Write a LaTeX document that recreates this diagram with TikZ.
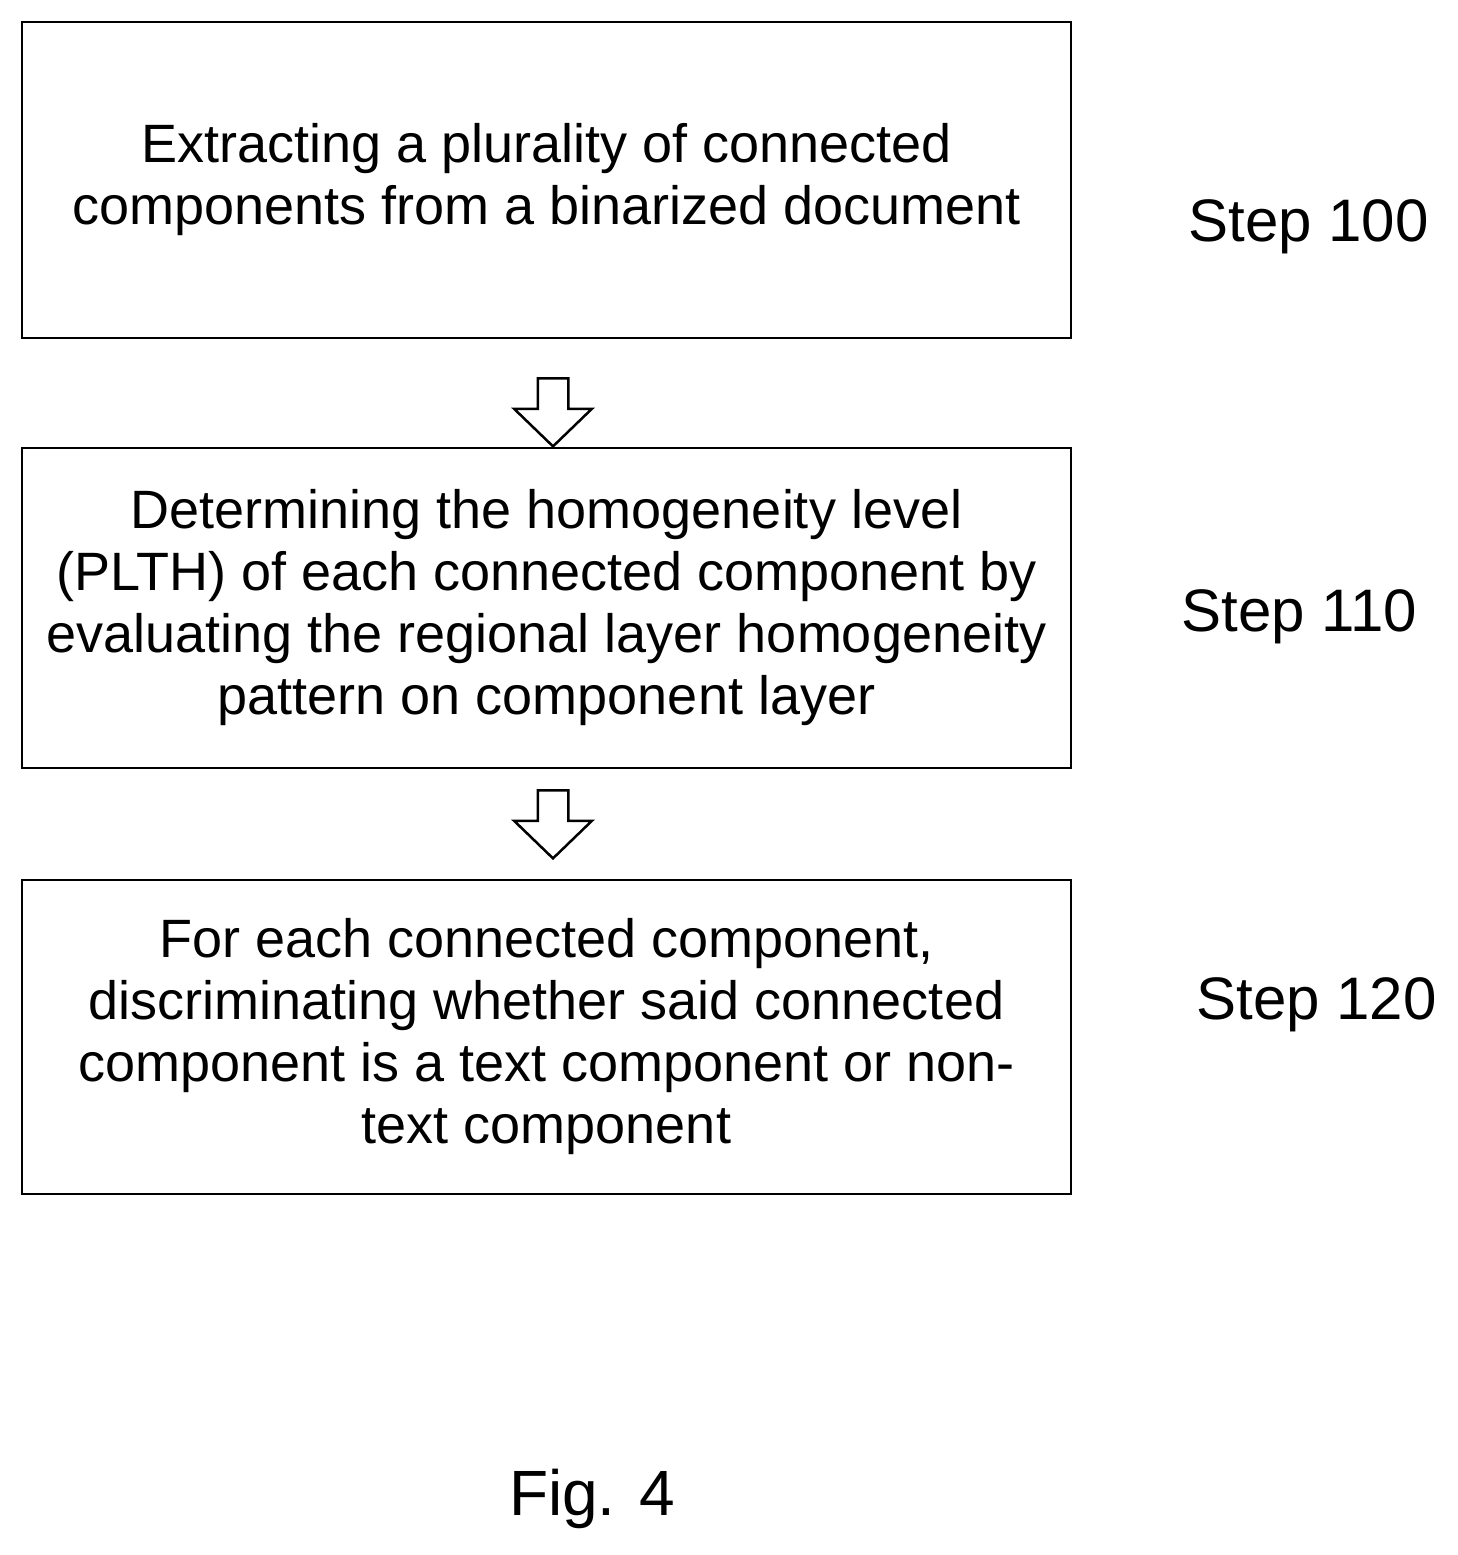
\documentclass[tikz,border=0pt]{standalone}
\usepackage{fontspec}
\setmainfont{Liberation Sans}
\usetikzlibrary{shapes.arrows}

\tikzset{
  stepbox/.style={draw, line width=2.5pt, minimum width=1049pt, align=center,
    font=\fontsize{54}{62}\selectfont},
  steplabel/.style={font=\fontsize{60}{70}\selectfont, anchor=west},
  blockarrow/.style={draw, line width=2.5pt, single arrow, rotate=-90,
    minimum height=68pt, inner xsep=0pt, inner ysep=14pt,
    single arrow head extend=23.5pt, single arrow tip angle=92}
}

\begin{document}
\begin{tikzpicture}[x=1pt,y=1pt,yscale=-1]
    \useasboundingbox (0,0) rectangle (1458,1555);

    % Boxes
    \node [stepbox, minimum height=316pt] (extract) at (546.5,180)
      {Extracting a plurality of connected\\components from a binarized document};
    \node [stepbox, minimum height=320pt] (homog) at (546.5,608)
      {Determining the homogeneity level\\(PLTH) of each connected component by\\evaluating the regional layer homogeneity\\pattern on component layer};
    \node [stepbox, minimum height=314pt] (discrim) at (546.5,1037)
      {For each connected component,\\discriminating whether said connected\\component is a text component or non-\\text component};

    % Hollow arrows
    \node [blockarrow] (arr1) at (553,405) {};
    \node [blockarrow] (arr2) at (553,817) {};

    % Step labels
    \node [steplabel] (s100) at (1185,227) {Step 100};
    \node [steplabel] (s110) at (1178,617) {Step 110};
    \node [steplabel] (s120) at (1193,1005) {Step 120};

    % Caption
    \node [font=\fontsize{64}{76}\selectfont] (fig) at (592,1499) {Fig. 4};
\end{tikzpicture}
\end{document}
